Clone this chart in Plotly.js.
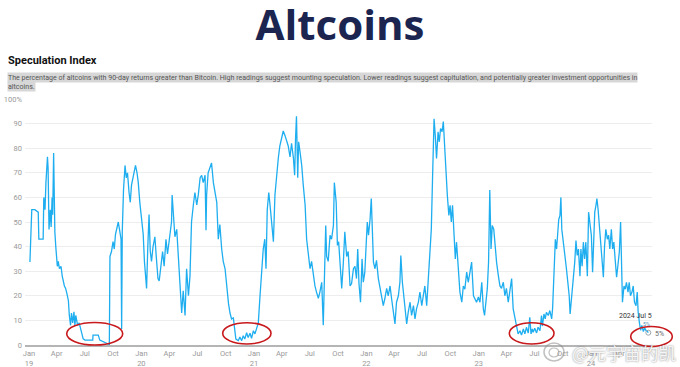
<!DOCTYPE html>
<html>
<head>
<meta charset="utf-8">
<script src="https://cdn.plot.ly/plotly-3.0.1.min.js"></script>
<style>html,body{margin:0;padding:0;background:#fff;}#chart{width:680px;height:367px;}</style>
</head>
<body>
<div id="chart"></div>
<script>
// Speculation index: percentage of altcoins with 90-day returns greater than Bitcoin
const dates = [
"2019-01-04","2019-01-06","2019-01-08","2019-01-10","2019-01-20","2019-01-31","2019-02-02","2019-02-11","2019-02-16","2019-02-18",
"2019-02-22","2019-02-25","2019-02-28","2019-03-02","2019-03-04","2019-03-07","2019-03-11","2019-03-14","2019-03-17","2019-03-19",
"2019-03-22","2019-03-24","2019-03-26","2019-03-29","2019-04-03","2019-04-06","2019-04-10","2019-04-15","2019-04-19","2019-04-26",
"2019-04-30","2019-05-04","2019-05-09","2019-05-12","2019-05-16","2019-05-19","2019-05-23","2019-05-27","2019-05-30","2019-06-02",
"2019-06-08","2019-06-13","2019-06-18","2019-06-21","2019-06-26","2019-07-02","2019-07-13","2019-07-27","2019-07-28","2019-08-14",
"2019-08-19","2019-09-05","2019-09-16","2019-09-19","2019-09-21","2019-09-26","2019-10-01","2019-10-05","2019-10-09","2019-10-14",
"2019-10-18","2019-10-22","2019-10-27","2019-10-29","2019-10-31","2019-11-04","2019-11-09","2019-11-13","2019-11-17","2019-11-22",
"2019-11-26","2019-11-30","2019-12-07","2019-12-13","2019-12-18","2019-12-22","2019-12-27","2020-01-02","2020-01-07","2020-01-11",
"2020-01-15","2020-01-18","2020-01-22","2020-01-26","2020-01-30","2020-02-03","2020-02-08","2020-02-14","2020-02-19","2020-02-24",
"2020-02-28","2020-03-04","2020-03-10","2020-03-15","2020-03-21","2020-03-26","2020-04-01","2020-04-05","2020-04-08","2020-04-10",
"2020-04-15","2020-04-19","2020-04-25","2020-04-30","2020-05-05","2020-05-11","2020-05-16","2020-05-22","2020-05-27","2020-06-02",
"2020-06-07","2020-06-12","2020-06-18","2020-06-23","2020-06-29","2020-07-04","2020-07-10","2020-07-15","2020-07-20","2020-07-26",
"2020-07-29","2020-07-31","2020-08-05","2020-08-11","2020-08-16","2020-08-22","2020-08-27","2020-09-02","2020-09-07","2020-09-12",
"2020-09-18","2020-09-23","2020-09-29","2020-10-04","2020-10-10","2020-10-15","2020-10-20","2020-10-26","2020-10-31","2020-11-03",
"2020-11-11","2020-11-16","2020-11-22","2020-11-27","2020-12-02","2020-12-08","2020-12-13","2020-12-19","2020-12-24","2020-12-30",
"2021-01-04","2021-01-10","2021-01-15","2021-01-20","2021-01-26","2021-01-31","2021-02-05","2021-02-09","2021-02-13","2021-02-18",
"2021-02-22","2021-02-27","2021-03-05","2021-03-10","2021-03-16","2021-03-21","2021-03-26","2021-04-01","2021-04-06","2021-04-12",
"2021-04-17","2021-04-22","2021-04-28","2021-05-03","2021-05-09","2021-05-13","2021-05-16","2021-05-19","2021-05-23","2021-05-26",
"2021-05-30","2021-06-05","2021-06-10","2021-06-16","2021-06-21","2021-06-26","2021-07-02","2021-07-07","2021-07-13","2021-07-18",
"2021-07-23","2021-07-29","2021-08-03","2021-08-09","2021-08-14","2021-08-17","2021-08-22","2021-08-25","2021-08-30","2021-09-05",
"2021-09-10","2021-09-16","2021-09-19","2021-09-25","2021-09-29","2021-10-03","2021-10-07","2021-10-13","2021-10-18","2021-10-23",
"2021-10-29","2021-11-03","2021-11-09","2021-11-14","2021-11-20","2021-11-25","2021-11-30","2021-12-04","2021-12-08","2021-12-13",
"2021-12-18","2021-12-22","2021-12-27","2021-12-31","2022-01-04","2022-01-08","2022-01-13","2022-01-17","2022-01-20","2022-01-24",
"2022-01-29","2022-02-03","2022-02-09","2022-02-14","2022-02-20","2022-02-25","2022-03-02","2022-03-08","2022-03-13","2022-03-19",
"2022-03-24","2022-03-29","2022-04-04","2022-04-09","2022-04-15","2022-04-20","2022-04-23","2022-04-28","2022-05-03","2022-05-07",
"2022-05-12","2022-05-17","2022-05-23","2022-05-28","2022-06-03","2022-06-08","2022-06-13","2022-06-19","2022-06-24","2022-06-30",
"2022-07-05","2022-07-10","2022-07-16","2022-07-21","2022-07-27","2022-07-31","2022-08-04","2022-08-09","2022-08-13","2022-08-17",
"2022-08-22","2022-08-26","2022-08-30","2022-09-04","2022-09-08","2022-09-12","2022-09-17","2022-09-21","2022-09-26","2022-09-30",
"2022-10-04","2022-10-08","2022-10-13","2022-10-17","2022-10-21","2022-10-27","2022-11-01","2022-11-07","2022-11-12","2022-11-17",
"2022-11-23","2022-11-28","2022-12-04","2022-12-09","2022-12-15","2022-12-20","2022-12-25","2022-12-31","2023-01-05","2023-01-11",
"2023-01-16","2023-01-20","2023-01-25","2023-01-29","2023-02-02","2023-02-06","2023-02-10","2023-02-14","2023-02-19","2023-02-23",
"2023-02-28","2023-03-06","2023-03-11","2023-03-16","2023-03-22","2023-03-27","2023-04-01","2023-04-07","2023-04-12","2023-04-18",
"2023-04-23","2023-04-29","2023-05-04","2023-05-09","2023-05-15","2023-05-20","2023-05-26","2023-05-31","2023-06-05","2023-06-11",
"2023-06-16","2023-06-20","2023-06-24","2023-06-27","2023-07-02","2023-07-08","2023-07-13","2023-07-19","2023-07-24","2023-07-27",
"2023-08-01","2023-08-05","2023-08-09","2023-08-15","2023-08-20","2023-08-26","2023-08-29","2023-09-02","2023-09-07","2023-09-11",
"2023-09-15","2023-09-18","2023-09-22","2023-09-25","2023-09-28","2023-10-03","2023-10-08","2023-10-13","2023-10-18","2023-10-22",
"2023-10-25","2023-10-30","2023-11-04","2023-11-09","2023-11-13","2023-11-17","2023-11-21","2023-11-26","2023-11-29","2023-12-03",
"2023-12-07","2023-12-11","2023-12-15","2023-12-20","2023-12-24","2023-12-28","2024-01-02","2024-01-06","2024-01-10","2024-01-13",
"2024-01-17","2024-01-20","2024-01-24","2024-01-28","2024-02-01","2024-02-05","2024-02-10","2024-02-14","2024-02-18","2024-02-23",
"2024-02-27","2024-03-02","2024-03-07","2024-03-11","2024-03-15","2024-03-20","2024-03-24","2024-03-28","2024-04-02","2024-04-06",
"2024-04-09","2024-04-12","2024-04-17","2024-04-21","2024-04-25","2024-04-30","2024-05-04","2024-05-08","2024-05-13","2024-05-17",
"2024-05-21","2024-05-26","2024-05-30","2024-06-02","2024-06-06","2024-06-10","2024-06-14","2024-06-19","2024-06-23","2024-06-27",
"2024-07-02","2024-07-05"
];
const values = [
33.7,44,42,55,55,54,43,43,43,60,
55,66,74,76.5,72,47,55,48,60,53,
78,55,46,40,32,34,31,32,28,24,
23,21,18,12,8,13,9,13.5,8,12,
8,9,6,5,2.5,2,2,2,4,4,
2,1,0.3,0.2,36,38,42,39,45,48,
50,47,43,6.5,46,63,73,68,70,62,
58,65,70,73,70,66,58,51,45,34,
28,23,40,53,38,34,40,44,35,27,
26,33,38,32,43,37,43,47,50,61,
50,44,47,35,28,13,22,12,31,20,
28,50,57,62,57,61,68,69,66,69,
46.6,61,70,72,74,66,62,58,43,49,
39,34,31,23,17,13,10.6,11,6.5,2.4,
1.8,3.2,1.8,3.8,2.4,5,3,4.8,2.7,5.8,
4.5,7.2,9,19,30,39,43,31,55,62,
57,50,42,61,70,76,81,85,87,85,
83,81,76.5,82,76,69,84,93,68,82.6,
79,73,65,57,43,36,31,34,28,24,
21.5,19,21.5,25.5,8,25.5,48.6,36,34,44.6,
43,48.6,66,58,40.5,42,33,23,33,46,
36,38,24,25,31,32,27,39,25,17.4,
35,25.5,29.6,42,50,44.6,51,59.5,46,33.7,
31,34.4,27,23,18.8,16,18.8,23,20,24,
18.8,14.7,8.6,17.4,20,25.5,36.4,25.5,20,14.7,
8.6,13.3,17.4,12,16,10.6,14.7,17.4,21.5,16,
20,24,16,25.5,39,47,67.6,92,85,75.8,
86.7,82.6,88,86.7,90.8,80,70,61,52.7,56.8,
50,56.8,44.6,35,41.8,31,21.5,17.4,24,22.7,
29.6,25.5,31,33.7,20,18.8,17.4,19.5,17.4,25.5,
14.7,12,17.4,23,33.7,63,39,48.6,47,39,
33.7,28,24,23,25.5,20,23,17.4,21.5,27,
14.7,10.6,6.5,4.5,5.8,4,6.5,4.5,7.2,4.9,
11.3,4.5,6.5,5.2,6.8,4.9,7.2,5.8,12,7.7,
12.6,10.6,13.3,12,14,10.6,14.7,31,43,39,
44.6,51,52.7,60,47,40.5,36.4,31,25.5,20,
12.6,20,25.5,33.7,42.5,36.4,39,28,39,32,
41.8,35,41.8,28,54,50,44.6,29.6,50,54,
56.8,59.5,55,48.6,40.5,38,27.6,40.5,47,43,
44.6,39,47,39,41.8,33.7,27.6,32,38,50,
33.7,17.4,24,22.7,25.5,21.5,25.5,20,21.5,24,
17.4,16,21.5,13.3,9.2,6,8,5.5,7,6,
5.5,5
];

const tickDates = ["2019-01-01","2019-04-01","2019-07-01","2019-10-01","2020-01-01","2020-04-01","2020-07-01","2020-10-01",
"2021-01-01","2021-04-01","2021-07-01","2021-10-01","2022-01-01","2022-04-01","2022-07-01","2022-10-01",
"2023-01-01","2023-04-01","2023-07-01","2023-10-01","2024-01-01","2024-04-01"];
const tickLabels = ["Jan<br>19","Apr","Jul","Oct","Jan<br>20","Apr","Jul","Oct",
"Jan<br>21","Apr","Jul","Oct","Jan<br>22","Apr","Jul","Oct",
"Jan<br>23","Apr","Jul","Oct","Jan<br>24","Apr"];
const yTicks = [0,10,20,30,40,50,60,70,80,90,100];
const yLabels = ["0","10","20","30","40","50","60","70","80","90","100%"];

const lastDate = dates[dates.length-1];
const lastVal = values[values.length-1];

const traces = [
  {x: dates, y: values, type: "scatter", mode: "lines",
   line: {color: "#1eaef0", width: 1.3}, hoverinfo: "skip"},
  {x: [lastDate], y: [lastVal], type: "scatter", mode: "markers",
   marker: {symbol: "circle-open", size: 5, color: "#9aa7b0", line: {width: 1}}, hoverinfo: "skip"}
];

// paper coords helpers for plot area x:25..652, y:99..345
const W = 627, H = 246;
const px = v => (v - 25) / W;
const py = v => (345 - v) / H;

const ell = (x0, x1, y0, y1) => ({type: "circle", xref: "paper", yref: "paper",
  x0: px(x0), x1: px(x1), y0: py(y1), y1: py(y0), line: {color: "#c8191c", width: 1.6}, layer: "above"});

const layout = {
  width: 680, height: 367,
  margin: {l: 25, r: 28, t: 99, b: 22},
  paper_bgcolor: "#fff", plot_bgcolor: "#fff",
  showlegend: false,
  font: {family: "Roboto, sans-serif", color: "#999"},
  title: {text: "<b>Altcoins</b>", x: 0.5, xanchor: "center", xref: "container",
          y: 0.93, yanchor: "middle", yref: "container",
          font: {family: "Open Sans, sans-serif", size: 42, color: "#1b2550", weight: 800}},
  xaxis: {type: "date", range: ["2018-12-19", "2024-07-17"], tickvals: tickDates, ticktext: tickLabels,
          showgrid: false, zeroline: false, showline: true, linecolor: "#b5b5b5", linewidth: 2,
          ticks: "", tickfont: {size: 7.5, color: "#999"}, automargin: false},
  yaxis: {range: [0, 100], tickvals: yTicks, ticktext: yLabels, showgrid: true, gridcolor: "#ededed",
          gridwidth: 1, zeroline: false, ticks: "", tickfont: {size: 7.5, color: "#999"}, automargin: false,
          ticklabelstandoff: 2},
  shapes: [
    ell(66.7, 122.7, 322.5, 345),
    ell(222.7, 271, 322.7, 344),
    ell(509.3, 554, 322.7, 344),
    ell(630.7, 672.3, 326.5, 346.5),
    {type: "circle", xref: "paper", yref: "paper", x0: px(544), x1: px(564), y0: py(361), y1: py(343),
     line: {color: "rgba(140,140,140,0.55)", width: 1.5}},
    {type: "circle", xref: "paper", yref: "paper", x0: px(549), x1: px(559), y0: py(357), y1: py(348),
     line: {color: "rgba(140,140,140,0.55)", width: 1.2}}
  ],
  annotations: [
    {text: "<b>Speculation Index</b>", xref: "paper", yref: "paper", x: px(6), y: py(60),
     xanchor: "left", yanchor: "middle", showarrow: false,
     font: {family: "Roboto, sans-serif", size: 11, color: "#111"}},
    {text: "The percentage of altcoins with 90-day returns greater than Bitcoin. High readings suggest mounting speculation. Lower readings suggest capitulation, and potentially greater investment opportunities in",
     xref: "paper", yref: "paper", x: px(7), y: py(77.5), xanchor: "left", yanchor: "middle", showarrow: false,
     bgcolor: "#d7d7d7", borderpad: 0, font: {family: "Roboto, sans-serif", size: 7.05, color: "#555"}},
    {text: "altcoins.", xref: "paper", yref: "paper", x: px(7), y: py(86.5), xanchor: "left", yanchor: "middle",
     showarrow: false, bgcolor: "#d7d7d7", borderpad: 0, font: {family: "Roboto, sans-serif", size: 7.05, color: "#555"}},
    {text: "2024 Jul 5", xref: "paper", yref: "paper", x: px(635), y: py(316), xanchor: "center", yanchor: "middle",
     showarrow: false, font: {family: "Roboto, sans-serif", size: 7, color: "#333"}},
    {text: "5%", xref: "paper", yref: "paper", x: px(646), y: py(323.5), xanchor: "center", yanchor: "middle",
     showarrow: false, font: {family: "Roboto, sans-serif", size: 5.5, color: "#5a8fb5"}},
    {text: "5%", xref: "paper", yref: "paper", x: px(653), y: py(333.5), xanchor: "left", yanchor: "middle",
     showarrow: false, font: {family: "Roboto, sans-serif", size: 7, color: "#666"}},
    {text: "@元宇宙的凯", xref: "paper", yref: "paper", x: px(570), y: py(352), xanchor: "left", yanchor: "middle",
     showarrow: false, font: {family: "Noto Sans CJK SC, sans-serif", size: 17.5, color: "rgba(255,255,255,0.9)",
     shadow: "0px 0px 2px rgba(90,90,90,0.9)"}}
  ]
};

Plotly.newPlot("chart", traces, layout, {displayModeBar: false, staticPlot: true});
</script>
</body>
</html>
